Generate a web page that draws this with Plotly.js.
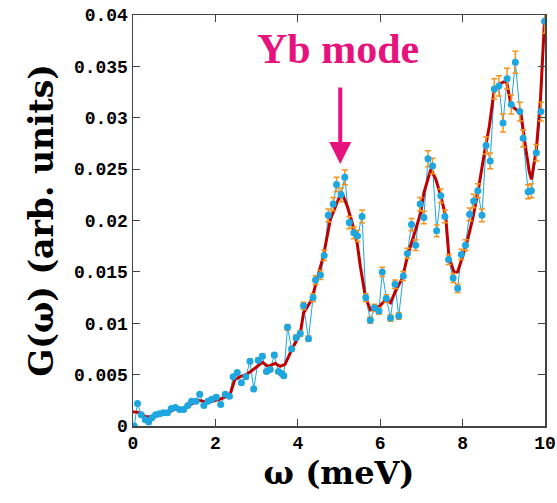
<!DOCTYPE html>
<html>
<head>
<meta charset="utf-8">
<script src="https://cdn.plot.ly/plotly-3.0.1.min.js"></script>
<style>html,body{margin:0;padding:0;background:#fff;}#chart{width:557px;height:503px;}</style>
</head>
<body>
<div id="chart"></div>
<script>
// Measured points (blue)
const omegaPts = [0.03,0.11,0.20,0.30,0.38,0.46,0.55,0.64,0.74,0.84,0.93,1.03,1.13,1.23,1.33,1.42,1.53,1.62,1.72,1.82,1.91,2.02,2.13,2.24,2.34,2.43,2.53,2.63,2.74,2.84,2.93,3.04,3.14,3.24,3.33,3.43,3.53,3.61,3.66,3.75,3.85,3.96,4.06,4.14,4.26,4.37,4.43,4.55,4.64,4.74,4.86,4.94,5.05,5.14,5.25,5.36,5.45,5.56,5.65,5.76,5.86,5.97,6.05,6.15,6.25,6.36,6.45,6.56,6.66,6.76,6.86,6.97,7.06,7.16,7.27,7.37,7.47,7.57,7.66,7.77,7.88,7.97,8.07,8.17,8.27,8.37,8.47,8.57,8.67,8.77,8.88,8.98,9.08,9.18,9.28,9.39,9.47,9.59,9.67,9.79,9.90,9.99];
const gPts = [0.0000,0.0022,0.0011,0.0006,0.0004,0.0008,0.0011,0.0012,0.0013,0.0013,0.0017,0.0018,0.0016,0.0016,0.0020,0.0024,0.0024,0.0031,0.0020,0.0024,0.0026,0.0028,0.0021,0.0031,0.0029,0.0048,0.0052,0.0042,0.0048,0.0063,0.0036,0.0064,0.0068,0.0053,0.0055,0.0069,0.0053,0.0051,0.0049,0.0096,0.0075,0.0086,0.0090,0.0117,0.0085,0.0125,0.0142,0.0147,0.0166,0.0205,0.0216,0.0235,0.0225,0.0242,0.0198,0.0188,0.0185,0.0204,0.0125,0.0103,0.0115,0.0112,0.0150,0.0124,0.0105,0.0138,0.0107,0.0146,0.0168,0.0196,0.0176,0.0216,0.0203,0.0260,0.0253,0.0190,0.0224,0.0204,0.0162,0.0144,0.0134,0.0167,0.0176,0.0206,0.0219,0.0229,0.0205,0.0273,0.0258,0.0328,0.0331,0.0295,0.0338,0.0313,0.0354,0.0306,0.0280,0.0228,0.0229,0.0266,0.0306,0.0394];
// Smoothed curve (red)
const omegaFit = [0.00,0.15,0.30,0.50,0.80,1.00,1.20,1.40,1.60,1.82,2.10,2.35,2.47,2.60,2.75,2.92,3.14,3.28,3.45,3.57,3.69,3.85,4.06,4.14,4.34,4.46,4.62,4.79,4.95,5.06,5.20,5.32,5.44,5.52,5.64,5.76,5.89,6.00,6.13,6.25,6.37,6.54,6.66,6.82,6.98,7.06,7.23,7.35,7.47,7.59,7.67,7.80,7.88,8.00,8.12,8.24,8.37,8.53,8.65,8.76,8.89,9.06,9.18,9.30,9.42,9.50,9.62,9.67,9.79,9.89,9.99];
const gFit = [0.0014,0.0013,0.0009,0.0009,0.0012,0.0016,0.0017,0.0021,0.0025,0.0023,0.0026,0.0030,0.0045,0.0048,0.0050,0.0055,0.0062,0.0058,0.0061,0.0058,0.0060,0.0074,0.0090,0.0110,0.0123,0.0142,0.0165,0.0201,0.0217,0.0228,0.0214,0.0198,0.0178,0.0155,0.0126,0.0113,0.0115,0.0117,0.0123,0.0120,0.0131,0.0144,0.0165,0.0185,0.0207,0.0227,0.0250,0.0240,0.0224,0.0204,0.0164,0.0149,0.0150,0.0165,0.0181,0.0201,0.0227,0.0266,0.0292,0.0325,0.0333,0.0336,0.0312,0.0308,0.0303,0.0279,0.0247,0.0240,0.0269,0.0318,0.0396];
const xTicks = [0,2,4,6,8,10];
const yTicks = [0,0.005,0.01,0.015,0.02,0.025,0.03,0.035,0.04];
const yTickText = ['0','0.005','0.01','0.015','0.02','0.025','0.03','0.035','0.04'];

const blue = '#1ea6e0';
const traces = [
  {x: omegaPts, y: gPts, mode: 'lines', line: {color: blue, width: 1}, hoverinfo: 'skip'},
  {x: omegaFit, y: gFit, mode: 'lines', line: {color: '#c00000', width: 3}},
  {x: omegaPts, y: gPts, mode: 'markers', marker: {color: blue, size: 7},
   error_y: {type: 'percent', value: 3, color: '#f7941d', thickness: 1.5, width: 3}}
];
const axisCommon = {showgrid: false, zeroline: false, showline: true, linecolor: '#444', linewidth: 1.5,
  mirror: 'ticks', ticks: 'inside', ticklen: 7, tickcolor: '#444', tickwidth: 1.2,
  tickfont: {family: 'Liberation Mono', size: 18, color: '#000', weight: 'bold'}};
const layout = {
  width: 557, height: 503,
  margin: {l: 133, r: 12, t: 15, b: 77},
  paper_bgcolor: '#fff', plot_bgcolor: '#fff', showlegend: false,
  xaxis: Object.assign({}, axisCommon, {range: [0, 10], tickvals: xTicks, ticktext: xTicks.map(String),
    title: {text: 'ω (meV)', font: {family: 'DejaVu Serif', size: 32, color: '#000', weight: 'bold'}, standoff: 8}}),
  yaxis: Object.assign({}, axisCommon, {range: [0, 0.04], tickvals: yTicks, ticktext: yTickText,
    title: {text: 'G(ω) (arb. units)', font: {family: 'DejaVu Serif', size: 33, color: '#000', weight: 'bold'}, standoff: 10}}),
  annotations: [
    {x: 4.98, y: 0.0367, xref: 'x', yref: 'y', text: '<b>Yb mode</b>', showarrow: false,
     font: {family: 'Liberation Serif', size: 42, color: '#e6127e'}},
    {x: 5.03, y: 0.0255, xref: 'x', yref: 'y', ax: 5.03, ay: 0.0331, axref: 'x', ayref: 'y', text: '',
     showarrow: true, arrowhead: 2, arrowsize: 1.1, arrowwidth: 4, arrowcolor: '#e6127e'}
  ]
};
Plotly.newPlot('chart', traces, layout, {displayModeBar: false, staticPlot: true});
</script>
</body>
</html>
